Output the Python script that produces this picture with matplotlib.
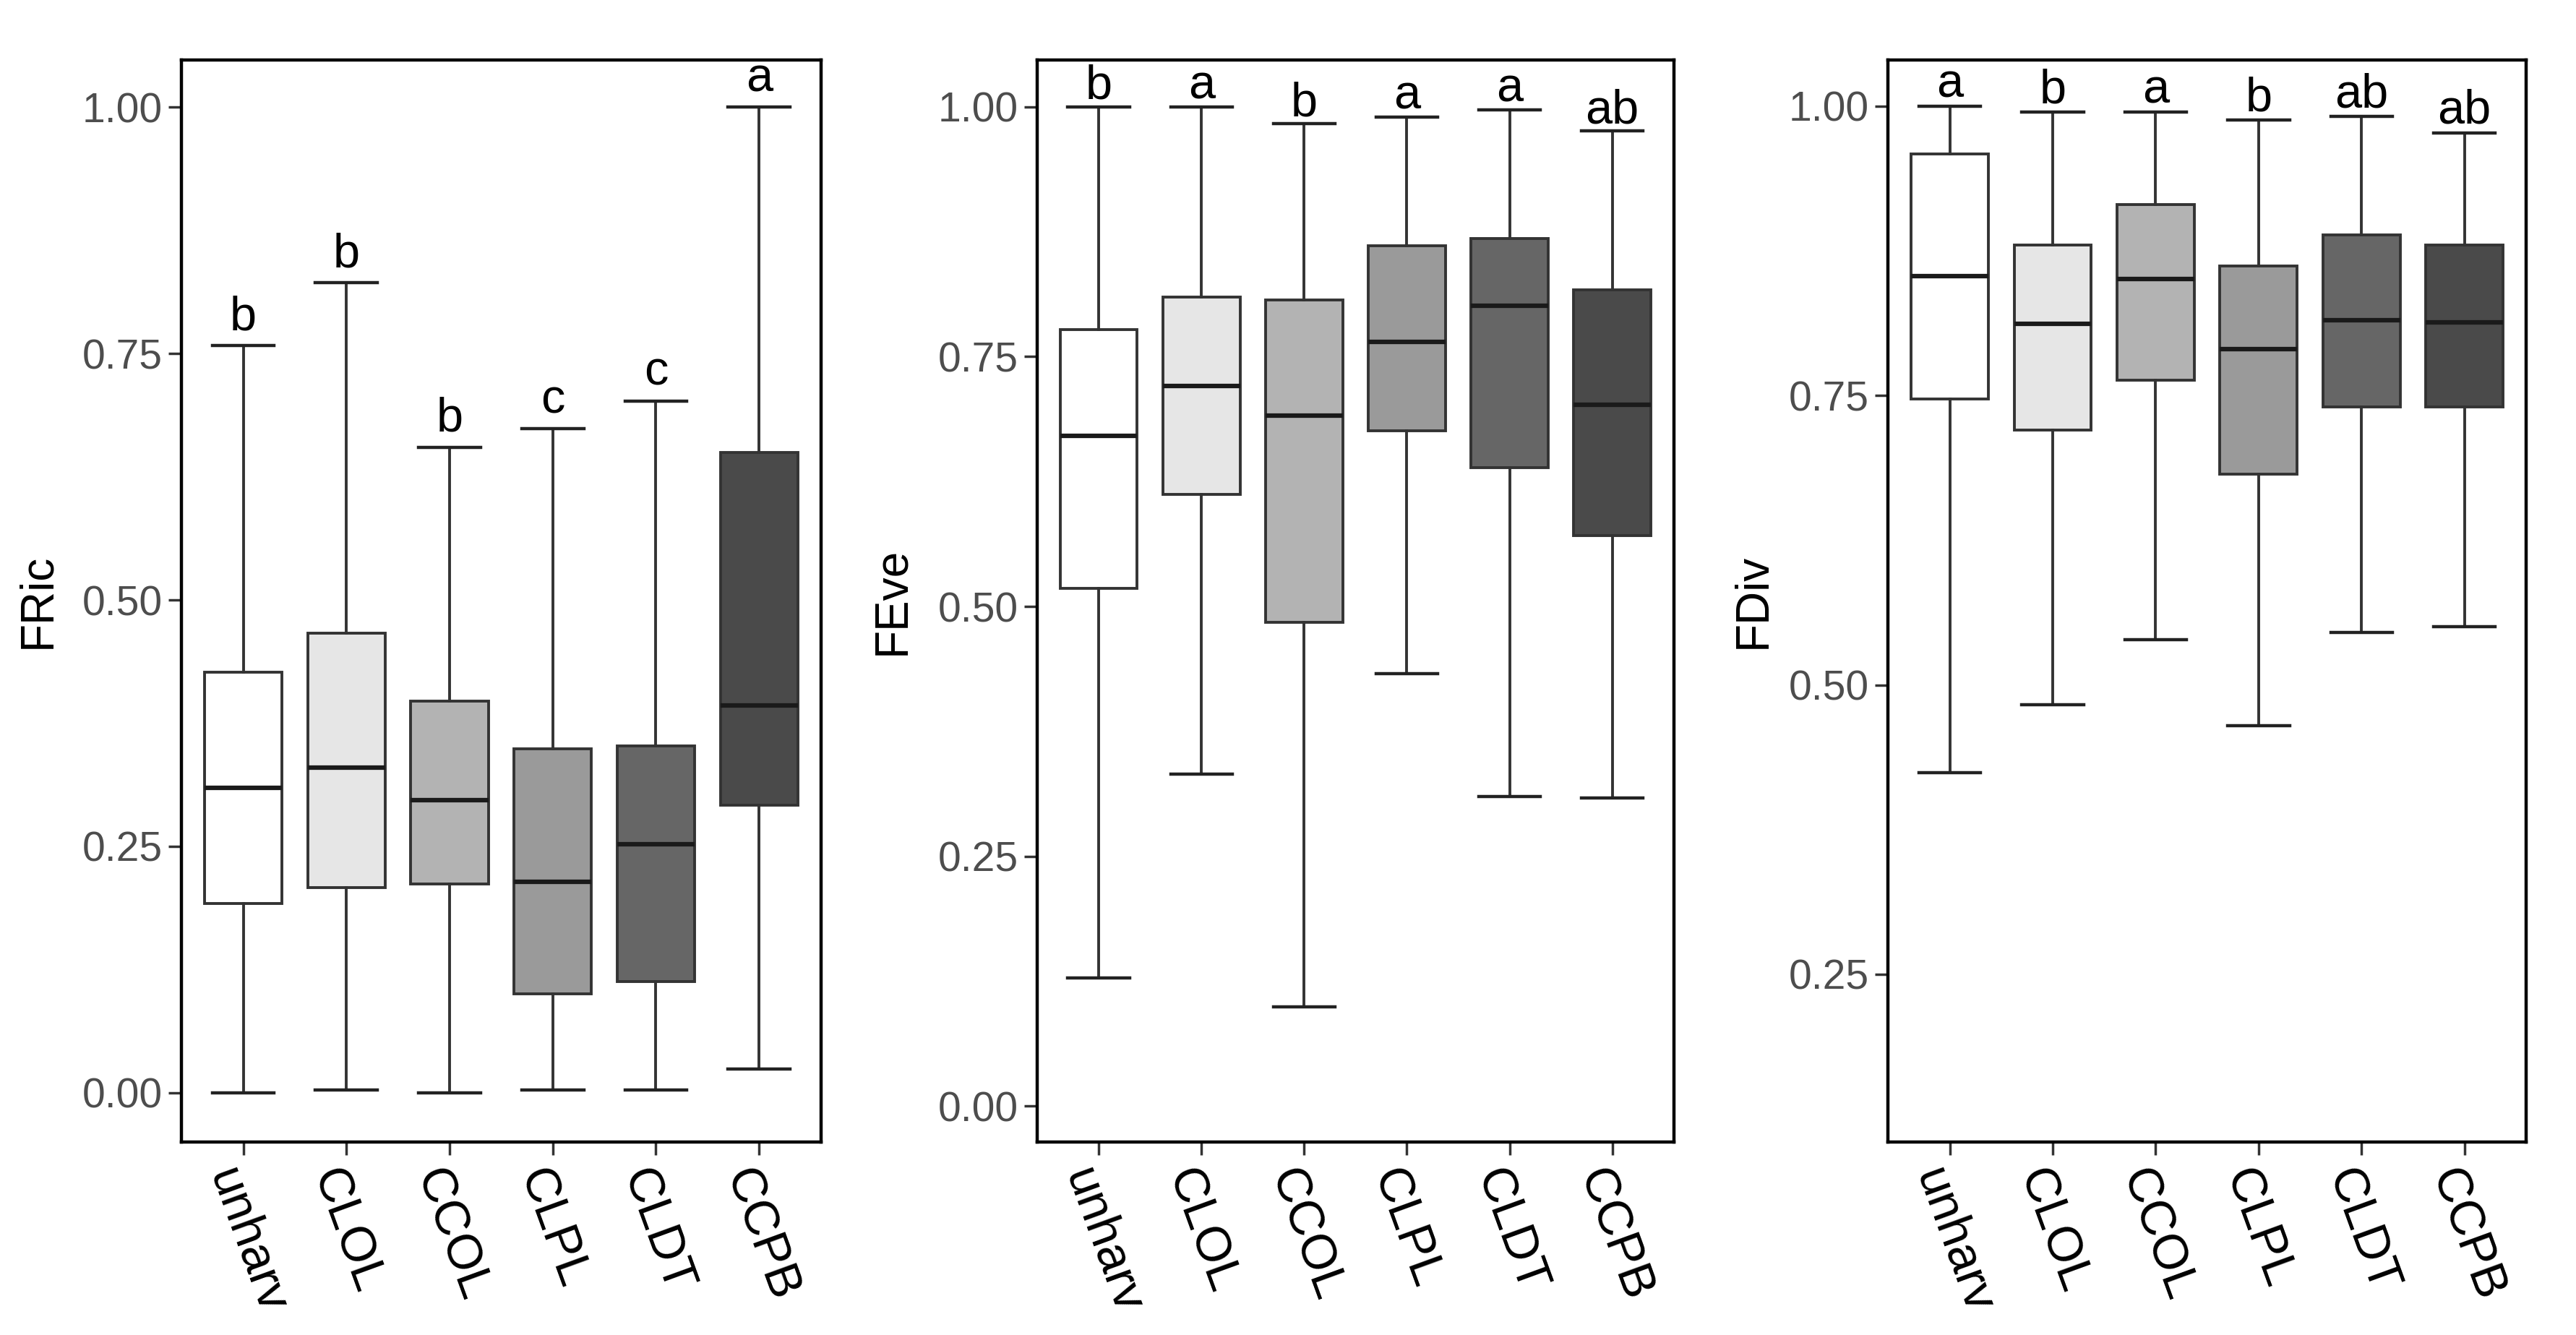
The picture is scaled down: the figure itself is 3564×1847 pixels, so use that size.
import matplotlib
matplotlib.use("Agg")
import matplotlib.pyplot as plt

plt.rcParams['font.family'] = ['Liberation Sans', 'DejaVu Sans']

# categorias (tratamentos)
tratamentos = ["unharv", "CLOL", "CCOL", "CLPL", "CLDT", "CCPB"]
cores = ["#ffffff", "#e6e6e6", "#b3b3b3", "#9a9a9a", "#666666", "#4a4a4a"]

# FRic: whisker inferior, Q1, mediana, Q3, whisker superior
fric_low = [0.000, 0.003, 0.000, 0.003, 0.003, 0.024]
fric_q1 = [0.192, 0.208, 0.212, 0.100, 0.113, 0.292]
fric_med = [0.309, 0.330, 0.297, 0.214, 0.252, 0.393]
fric_q3 = [0.427, 0.466, 0.397, 0.349, 0.352, 0.650]
fric_high = [0.758, 0.822, 0.655, 0.674, 0.702, 1.000]
fric_letras = ["b", "b", "b", "c", "c", "a"]

# FEve
feve_low = [0.128, 0.332, 0.099, 0.433, 0.310, 0.308]
feve_q1 = [0.518, 0.612, 0.484, 0.676, 0.639, 0.571]
feve_med = [0.671, 0.721, 0.691, 0.765, 0.801, 0.702]
feve_q3 = [0.777, 0.810, 0.807, 0.861, 0.868, 0.817]
feve_high = [1.000, 1.000, 0.983, 0.990, 0.997, 0.976]
feve_letras = ["b", "a", "b", "a", "a", "ab"]

# FDiv
fdiv_low = [0.424, 0.483, 0.539, 0.465, 0.545, 0.550]
fdiv_q1 = [0.747, 0.720, 0.763, 0.682, 0.740, 0.740]
fdiv_med = [0.853, 0.812, 0.851, 0.790, 0.815, 0.813]
fdiv_q3 = [0.959, 0.880, 0.915, 0.862, 0.889, 0.880]
fdiv_high = [1.000, 0.995, 0.995, 0.988, 0.991, 0.977]
fdiv_letras = ["a", "b", "a", "b", "ab", "ab"]


def montar_stats(low, q1, med, q3, high):
    return [dict(whislo=a, q1=b, med=c, q3=d, whishi=e, fliers=[])
            for a, b, c, d, e in zip(low, q1, med, q3, high)]


def painel(ax, stats, letras, high, rotulo, ylim, yticks, gap, label_x):
    pos = list(range(1, len(tratamentos) + 1))
    bp = ax.bxp(stats, positions=pos, widths=0.75, capwidths=0.6,
                showfliers=False, patch_artist=True,
                boxprops=dict(edgecolor="#333333", linewidth=2.8),
                whiskerprops=dict(color="#333333", linewidth=2.8),
                capprops=dict(color="#222222", linewidth=3.2),
                medianprops=dict(color="#1a1a1a", linewidth=4.5))
    for caixa, cor in zip(bp['boxes'], cores):
        caixa.set_facecolor(cor)
    for x, y, txt in zip(pos, high, letras):
        ax.text(x, y + gap, txt, ha='center', va='baseline', fontsize=48, color='black')
    ax.set_xlim(0.4, 6.6)
    ax.set_ylim(*ylim)
    ax.set_yticks(yticks)
    ax.set_yticklabels([f"{t:.2f}" for t in yticks])
    ax.set_xticks(pos)
    ax.set_xticklabels(tratamentos, rotation=-70, rotation_mode='anchor',
                       ha='left', va='top', fontsize=49, color='black')
    ax.tick_params(axis='y', labelsize=41, labelcolor="#4d4d4d", length=13,
                   width=2.5, color="#333333", pad=6)
    ax.tick_params(axis='x', length=13, width=2.5, color="#333333", pad=8)
    ax.set_ylabel(rotulo, fontsize=46, color='black')
    ax.yaxis.set_label_coords(label_x, 0.5)
    for sp in ax.spines.values():
        sp.set_linewidth(3.2)
        sp.set_color("black")


fig = plt.figure(figsize=(35.64, 18.47), dpi=100)
base = 0.1446
altura = 0.8105
ax1 = fig.add_axes([0.0704, base, 0.2483, altura])
ax2 = fig.add_axes([0.4026, base, 0.2472, altura])
ax3 = fig.add_axes([0.7329, base, 0.2478, altura])

painel(ax1, montar_stats(fric_low, fric_q1, fric_med, fric_q3, fric_high),
       fric_letras, fric_high, "FRic", (-0.05, 1.048), [0.0, 0.25, 0.5, 0.75, 1.0], 0.016, -0.191)
painel(ax2, montar_stats(feve_low, feve_q1, feve_med, feve_q3, feve_high),
       feve_letras, feve_high, "FEve", (-0.036, 1.047), [0.0, 0.25, 0.5, 0.75, 1.0], 0.008, -0.194)
painel(ax3, montar_stats(fdiv_low, fdiv_q1, fdiv_med, fdiv_q3, fdiv_high),
       fdiv_letras, fdiv_high, "FDiv", (0.105, 1.040), [0.25, 0.5, 0.75, 1.0], 0.008, -0.177)

fig.savefig("out.png", dpi=100, facecolor="white")
